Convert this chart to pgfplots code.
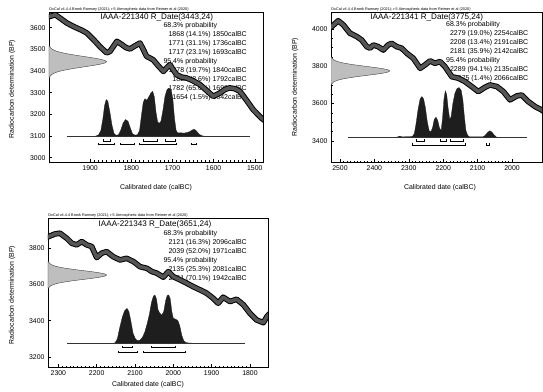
\documentclass[border=0pt]{standalone}
\usepackage{fontspec}
\setmainfont{Liberation Sans}
\usepackage{pgfplots}
\usepackage{pgfplotstable}
\pgfplotsset{compat=1.18}
\definecolor{band}{RGB}{85,85,85}
\definecolor{gauss}{RGB}{190,190,190}
\definecolor{dist}{RGB}{30,30,30}
\newcommand\hdr{\fontsize{3.8}{4}\selectfont}
\newcommand\ttl{\fontsize{8.1}{9}\selectfont}
\newcommand\txt{\fontsize{7}{8}\selectfont}
\newcommand\lab{\fontsize{6.9}{7.5}\selectfont}

\pgfplotsset{
  oxcal/.style={
    scale only axis, anchor=north west, x dir=reverse,
    axis line style={black, line width=0.7pt},
    tick align=inside, xtick pos=bottom, ytick pos=left,
    major tick length=3pt, minor tick length=1.5pt,
    tick style={black, line width=0.4pt},
    minor x tick num=9, minor y tick num=4,
    ticklabel style={font=\fontsize{6.9}{7}\selectfont},
    /pgf/number format/set thousands separator={},
    /pgf/number format/assume math mode=true,
    unbounded coords=jump,
  },
  curveout/.style={black, line width=5.6pt, line join=round},
  curvein/.style={band, line width=3.6pt, line join=round},
  gaussst/.style={fill=gauss, draw=black!75, line width=0.4pt},
  distst/.style={fill=dist, draw=dist, line width=0.3pt},
}

% ---------------- Panel 1 data ----------------
\pgfplotstableread{
x y
2005 3650
1997 3652
1985 3660
1970 3640
1957 3622
1945 3610
1932 3598
1920 3588
1908 3575
1896 3553
1884 3529
1876 3512
1868 3498
1860 3484
1852 3490
1843 3515
1835 3537
1823 3522
1813 3508
1803 3502
1792 3515
1779 3529
1771 3500
1763 3468
1747 3452
1735 3425
1722 3398
1714 3415
1706 3429
1698 3405
1690 3383
1678 3372
1666 3368
1650 3355
1633 3337
1617 3310
1601 3283
1585 3298
1572 3315
1561 3322
1548 3318
1536 3306
1520 3265
1504 3222
1484 3183
1475 3170
}\curveA
\pgfplotstableread{
x y
2000 3371
1998.4 3371
1996.8 3377
1993.9 3383
1988.9 3389
1981.1 3395
1969.7 3401
1954.5 3407
1935.9 3413
1915.1 3419
1894.3 3425
1876.5 3431
1864.3 3437
1860 3443
1864.3 3449
1876.5 3455
1894.3 3461
1915.1 3467
1935.9 3473
1954.5 3479
1969.7 3485
1981.1 3491
1988.9 3497
1993.9 3503
1996.8 3509
1998.4 3515
2000 3515
}\gaussA
\pgfplotstableread{
x y
1886 3100
1880 3104
1874 3125
1869 3180
1865 3240
1861 3268
1857 3260
1852 3210
1847 3150
1842 3112
1837 3103
1831 3106
1826 3125
1820 3160
1814 3176
1808 3168
1802 3135
1797 3110
1791 3104
1785 3106
1780 3125
1775 3200
1771 3255
1767 3272
1762 3265
1757 3282
1752 3300
1748 3306
1744 3280
1740 3210
1736 3165
1732 3158
1728 3168
1723 3220
1718 3285
1713 3315
1708 3322
1703 3312
1699 3270
1695 3180
1691 3125
1687 3114
1680 3115
1672 3113
1665 3116
1658 3120
1652 3128
1647 3131
1642 3124
1636 3110
1630 3102
1625 3100
}\distA

% ---------------- Panel 2 data ----------------
\pgfplotstableread{
x y
2535 4000
2524 4012
2505 4044
2490 4021
2471 3977
2451 3959
2437 3941
2422 3905
2413 3897
2403 3914
2389 3905
2374 3887
2360 3914
2350 3923
2335 3905
2321 3897
2306 3870
2287 3843
2267 3789
2253 3807
2238 3829
2224 3816
2209 3825
2195 3798
2185 3771
2175 3744
2156 3736
2137 3718
2117 3691
2098 3664
2078 3688
2064 3700
2044 3691
2025 3664
2006 3620
1986 3641
1972 3646
1953 3611
1933 3584
1914 3566
1905 3555
}\curveB
\pgfplotstableread{
x y
2526 3703
2524.1 3703
2522.1 3709
2518.5 3715
2512.4 3721
2502.9 3727
2489.0 3733
2470.5 3739
2447.7 3745
2422.3 3751
2396.9 3757
2375.1 3763
2360.3 3769
2355 3775
2360.3 3781
2375.1 3787
2396.9 3793
2422.3 3799
2447.7 3805
2470.5 3811
2489.0 3817
2502.9 3823
2512.4 3829
2518.5 3835
2522.1 3841
2524.1 3847
2526 3847
}\gaussB
\pgfplotstableread{
x y
2332 3422
2326 3425
2320 3422
2290 3423
2284 3438
2279 3490
2273 3570
2267 3625
2262 3638
2257 3625
2252 3580
2246 3500
2241 3455
2236 3448
2231 3470
2226 3515
2221 3527
2216 3510
2211 3470
2206 3455
2202 3520
2198 3620
2194 3668
2190 3650
2186 3580
2181 3515
2177 3530
2172 3600
2166 3655
2160 3680
2154 3686
2148 3672
2143 3620
2138 3520
2134 3455
2129 3430
2124 3422
2084 3422
2078 3430
2071 3445
2065 3454
2059 3448
2052 3432
2046 3422
}\distB

% ---------------- Panel 3 data ----------------
\pgfplotstableread{
x y
2335 3855
2326 3862
2309 3877
2296 3881
2278 3853
2265 3826
2252 3817
2239 3835
2226 3817
2213 3808
2200 3747
2187 3771
2174 3780
2157 3752
2139 3734
2122 3743
2104 3725
2087 3697
2069 3688
2056 3670
2043 3661
2026 3639
2013 3670
2000 3642
1982 3624
1965 3606
1948 3587
1930 3569
1913 3551
1896 3523
1883 3496
1870 3529
1852 3505
1835 3518
1817 3487
1800 3440
1783 3404
1765 3389
1756 3422
1748 3440
}\curveC
\pgfplotstableread{
x y
2327 3579
2325.3 3579
2323.5 3585
2320.3 3591
2314.8 3597
2306.3 3603
2293.9 3609
2277.3 3615
2257.0 3621
2234.2 3627
2211.5 3633
2192.0 3639
2178.7 3645
2174 3651
2178.7 3657
2192.0 3663
2211.5 3669
2234.2 3675
2257.0 3681
2277.3 3687
2293.9 3693
2306.3 3699
2314.8 3705
2320.3 3711
2323.5 3717
2325.3 3723
2327 3723
}\gaussC
\pgfplotstableread{
x y
2160 3275
2152 3278
2146 3300
2140 3360
2133 3420
2127 3455
2121 3468
2116 3450
2111 3400
2105 3330
2099 3300
2094 3290
2087 3293
2080 3310
2074 3340
2068 3385
2062 3440
2057 3500
2052 3535
2048 3541
2044 3520
2040 3460
2035 3440
2030 3430
2025 3450
2020 3510
2016 3538
2012 3541
2008 3520
2004 3450
2000 3413
1994 3408
1988 3400
1983 3370
1978 3320
1973 3290
1968 3280
1960 3277
1950 3276
1940 3275
}\distC

\begin{document}
\begin{tikzpicture}
\path[use as bounding box] (0,0) rectangle (543pt,-391pt);

% ================= texts (drawn first, curves pass over them) =================
\begin{scope}[every node/.style={inner sep=0pt}]
% Panel 1
\node[anchor=south west, font=\hdr] at (49pt,-11pt) {OxCal v4.4.4 Bronk Ramsey (2021); r:5 Atmospheric data from Reimer et al (2020)};
\node[font=\ttl] at (156.7pt,-17.5pt) {IAAA-221340 R\_Date(3443,24)};
\node[anchor=west, font=\txt] at (163.3pt,-25.5pt) {68.3\% probability};
\node[anchor=east, font=\txt] at (247pt,-34.5pt) {1868 (14.1\%) 1850calBC};
\node[anchor=east, font=\txt] at (247pt,-43.5pt) {1771 (31.1\%) 1736calBC};
\node[anchor=east, font=\txt] at (247pt,-52.5pt) {1717 (23.1\%) 1693calBC};
\node[anchor=west, font=\txt] at (163.3pt,-61.5pt) {95.4\% probability};
\node[anchor=east, font=\txt] at (247pt,-70.5pt) {1878 (19.7\%) 1840calBC};
\node[anchor=east, font=\txt] at (247pt,-79.5pt) {1825 (8.6\%) 1792calBC};
\node[anchor=east, font=\txt] at (247pt,-88.5pt) {1782 (65.6\%) 1690calBC};
\node[anchor=east, font=\txt] at (247pt,-97.5pt) {1654 (1.5\%) 1642calBC};
\node[rotate=90, font=\lab] at (12pt,-89pt) {Radiocarbon determination (BP)};
\node[font=\lab] at (156pt,-188pt) {Calibrated date (calBC)};
% Panel 2
\node[anchor=south west, font=\hdr] at (331pt,-11pt) {OxCal v4.4.4 Bronk Ramsey (2021); r:5 Atmospheric data from Reimer et al (2020)};
\node[font=\ttl] at (426.7pt,-17pt) {IAAA-221341 R\_Date(3775,24)};
\node[anchor=west, font=\txt] at (446pt,-25pt) {68.3\% probability};
\node[anchor=east, font=\txt] at (528.5pt,-34pt) {2279 (19.0\%) 2254calBC};
\node[anchor=east, font=\txt] at (528.5pt,-43pt) {2208 (13.4\%) 2191calBC};
\node[anchor=east, font=\txt] at (528.5pt,-52pt) {2181 (35.9\%) 2142calBC};
\node[anchor=west, font=\txt] at (446pt,-61pt) {95.4\% probability};
\node[anchor=east, font=\txt] at (528.5pt,-70pt) {2289 (94.1\%) 2135calBC};
\node[anchor=east, font=\txt] at (528.5pt,-79pt) {2075 (1.4\%) 2066calBC};
\node[rotate=90, font=\lab] at (295pt,-87pt) {Radiocarbon determination (BP)};
\node[font=\lab] at (440pt,-188pt) {Calibrated date (calBC)};
% Panel 3
\node[anchor=south west, font=\hdr] at (48pt,-217pt) {OxCal v4.4.4 Bronk Ramsey (2021); r:5 Atmospheric data from Reimer et al (2020)};
\node[font=\ttl] at (155pt,-224.5pt) {IAAA-221343 R\_Date(3651,24)};
\node[anchor=west, font=\txt] at (163.3pt,-233.5pt) {68.3\% probability};
\node[anchor=east, font=\txt] at (247pt,-242.5pt) {2121 (16.3\%) 2096calBC};
\node[anchor=east, font=\txt] at (247pt,-251.5pt) {2039 (52.0\%) 1971calBC};
\node[anchor=west, font=\txt] at (163.3pt,-260.5pt) {95.4\% probability};
\node[anchor=east, font=\txt] at (247pt,-269.5pt) {2135 (25.3\%) 2081calBC};
\node[anchor=east, font=\txt] at (247pt,-278.5pt) {2061 (70.1\%) 1942calBC};
\node[rotate=90, font=\lab] at (12pt,-295pt) {Radiocarbon determination (BP)};
\node[font=\lab] at (148pt,-385pt) {Calibrated date (calBC)};
\end{scope}

% ================= Panel 1 =================
\begin{axis}[oxcal, at={(49pt,-12.5pt)}, width=214pt, height=149.5pt,
  xmin=1480, xmax=2000, ymin=2980, ymax=3670,
  xtick={1500,1600,1700,1800,1900}, ytick={3000,3100,3200,3300,3400,3500,3600}]
\addplot[gaussst] table {\gaussA} -- cycle;
\addplot[distst] table {\distA} -- cycle;
\addplot[black!80, line width=0.4pt] coordinates {(1957,3100) (1512,3100)};
\addplot[black, line width=0.5pt] coordinates {
(1868,3085) (1868,3078) (1850,3078) (1850,3085) (nan,nan)
(1771,3085) (1771,3078) (1736,3078) (1736,3085) (nan,nan)
(1717,3085) (1717,3078) (1693,3078) (1693,3085) (nan,nan)
(1880,3067) (1880,3060) (1841,3060) (1841,3067) (nan,nan)
(1827,3067) (1827,3060) (1794,3060) (1794,3067) (nan,nan)
(1781,3067) (1781,3060) (1690,3060) (1690,3067) (nan,nan)
(1655,3067) (1655,3060) (1642,3060) (1642,3067)};
\addplot[curveout] table {\curveA};
\addplot[curvein] table {\curveA};
\end{axis}

% ================= Panel 2 =================
\begin{axis}[oxcal, at={(331pt,-12.5pt)}, width=211pt, height=149.5pt,
  xmin=1913, xmax=2526, ymin=3287, ymax=4088, minor y tick num=3,
  xtick={2000,2100,2200,2300,2400,2500}, ytick={3400,3600,3800,4000}]
\addplot[gaussst] table {\gaussB} -- cycle;
\addplot[distst] table {\distB} -- cycle;
\addplot[black!80, line width=0.4pt] coordinates {(2476,3422) (1957,3422)};
\addplot[black, line width=0.5pt] coordinates {
(2279,3408) (2279,3400) (2254,3400) (2254,3408) (nan,nan)
(2208,3408) (2208,3400) (2191,3400) (2191,3408) (nan,nan)
(2181,3408) (2181,3400) (2142,3400) (2142,3408) (nan,nan)
(2289,3387) (2289,3379) (2135,3379) (2135,3387) (nan,nan)
(2075,3387) (2075,3379) (2066,3379) (2066,3387)};
\addplot[curveout] table {\curveB};
\addplot[curvein] table {\curveB};
\end{axis}

% ================= Panel 3 =================
\begin{axis}[oxcal, at={(48pt,-218.5pt)}, width=220pt, height=148.5pt,
  xmin=1753, xmax=2327, ymin=3145, ymax=3962, minor y tick num=3,
  xtick={1800,1900,2000,2100,2200,2300}, ytick={3200,3400,3600,3800}]
\addplot[gaussst] table {\gaussC} -- cycle;
\addplot[distst] table {\distC} -- cycle;
\addplot[black!80, line width=0.4pt] coordinates {(2278,3275) (1813,3275)};
\addplot[black, line width=0.5pt] coordinates {
(2133,3261) (2133,3253) (2107,3253) (2107,3261) (nan,nan)
(2058,3261) (2058,3253) (1996,3253) (1996,3261) (nan,nan)
(2145,3234) (2145,3226) (2095,3226) (2095,3234) (nan,nan)
(2078,3234) (2078,3226) (1970,3226) (1970,3234)};
\addplot[curveout] table {\curveC};
\addplot[curvein] table {\curveC};
\end{axis}
\end{tikzpicture}
\end{document}
